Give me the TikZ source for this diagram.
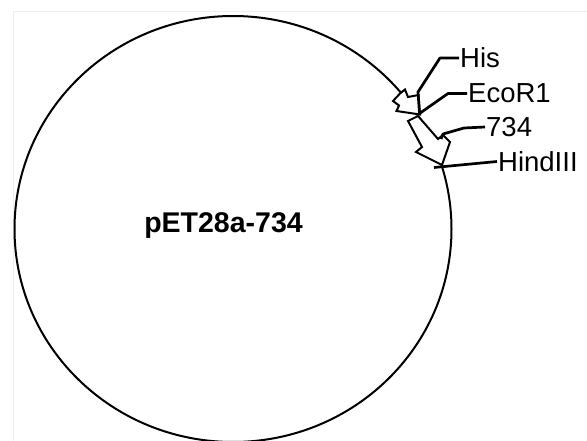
\documentclass[tikz,border=0pt]{standalone}
\usepackage{fontspec}
\setmainfont{Liberation Sans}
\usepackage[usenames,dvipsnames]{xcolor}
\definecolor{framegray}{RGB}{238,238,238}

\begin{document}
\begin{tikzpicture}[x=1pt,y=-1pt,
  plasmid/.style = {line width=2pt},
  feature/.style = {line width=2pt, fill=white, line join=miter},
  leader/.style  = {line width=2.7pt, line join=round},
  site/.style    = {anchor=west, inner sep=1pt,
                    font=\fontsize{27.5}{30}\selectfont}]
\useasboundingbox (0,0) rectangle (587,441);
% frame
\draw[framegray, line width=1pt] (13,441) -- (13,12) -- (587,12);

% backbone
\draw[plasmid] (233,229) ellipse [x radius=218.5pt, y radius=213pt];
\node[font=\bfseries\fontsize{28.5}{30}\selectfont] (name) at (223.5,225.5) {pET28a-734};

% His tag
\draw[feature] (418.5,95) -- (408,97) -- (405,89.5) -- (400,93.5) -- (393,101)
  -- (399,105.5) -- (396.5,111) -- (420,114.5) -- cycle;

% 734
\draw[feature] (408,121) -- (418,116) -- (438,139) -- (443,135) -- (450,142)
  -- (442,165) -- (416,152) -- (422,147) -- cycle;

% sites
\coordinate (hisjct) at (419.5,113.5);
\coordinate (cdsend) at (441,139);
\coordinate (hindtick) at (434,167.5);

\node[site] (his)  at (459,58)    {His};
\node[site] (eco)  at (467,93.5)  {EcoR1};
\node[site] (cds)  at (485,127)   {734};
\node[site] (hind) at (497,161.5) {HindIII};

\draw[leader] (hisjct) -- (418,92) -- (440,58) -- (his.west);
\draw[leader] (hisjct) -- (448,93.5) -- (eco.west);
\draw[leader] (cdsend) -- (443,134) -- (464,128) -- (cds.west);
\draw[leader] (hindtick) -- (hind.west);

\end{tikzpicture}
\end{document}
